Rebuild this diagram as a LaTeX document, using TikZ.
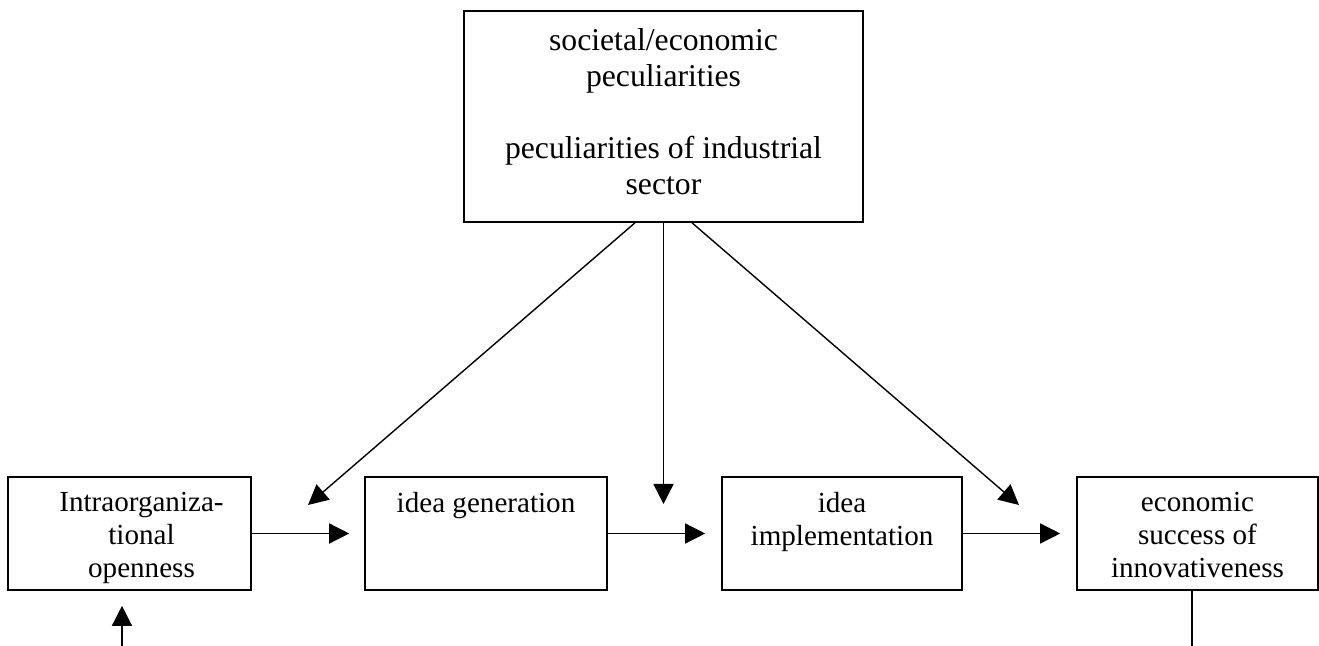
\documentclass[tikz,border=0pt]{standalone}
\usepackage{fontspec}
\setmainfont{Liberation Serif}
\usetikzlibrary{arrows.meta}

\tikzset{
  box/.style={draw,line width=0.8pt,inner sep=0pt,minimum height=56.5pt},
  txt/.style={anchor=north,align=center,inner sep=0pt,font=\fontsize{14.55}{16.5}\selectfont},
  arr/.style={line width=0.7pt,-{Triangle[length=10pt,width=10pt]}},
}

\begin{document}
\begin{tikzpicture}[x=0.5pt,y=-0.5pt]
        \useasboundingbox (0,0) rectangle (1319,646);
        %方框
        \node[box,minimum width=199.5pt,minimum height=105.5pt] (soc) at (663.5,116.5) {};
        \node[box,minimum width=121.5pt] (open) at (129.5,533.5) {};
        \node[box,minimum width=121pt] (gen) at (486,533.5) {};
        \node[box,minimum width=120pt] (impl) at (842,533.5) {};
        \node[box,minimum width=120.5pt] (econ) at (1197.5,533.5) {};
        %文字
        \node[txt,font=\fontsize{15.85}{18}\selectfont] (soc-t) at ([yshift=-9pt]soc.north) {societal/economic\\peculiarities\\[18pt]peculiarities of industrial\\sector};
        \node[txt] (open-t) at ([xshift=6pt,yshift=-8pt]open.north) {Intraorganiza-\\tional\\openness};
        \node[txt] (gen-t) at ([yshift=-8pt]gen.north) {idea generation};
        \node[txt] (impl-t) at ([yshift=-8pt]impl.north) {idea\\implementation};
        \node[txt] (econ-t) at ([yshift=-8pt]econ.north) {economic\\success of\\innovativeness};
        %箭头
        \coordinate (a1) at (308,505);
        \coordinate (a2) at (663.5,504);
        \coordinate (a3) at (1019,505);
        \draw[arr] ([xshift=-14.25pt]soc.south) -- (a1);
        \draw[arr] (soc.south) -- (a2);
        \draw[arr] ([xshift=14.25pt]soc.south) -- (a3);
        \draw[arr,shorten >=7.5pt] (open) -- (gen);
        \draw[arr,shorten >=8pt] (gen) -- (impl);
        \draw[arr,shorten >=8pt] (impl) -- (econ);
        %下方
        \coordinate (b1) at (122,646);
        \coordinate (b2) at (1192,646);
        \draw[arr,shorten >=7.5pt] (b1) -- (b1 |- open.south);
        \draw[line width=0.7pt] (b2 |- econ.south) -- (b2);
    \end{tikzpicture}
\end{document}
